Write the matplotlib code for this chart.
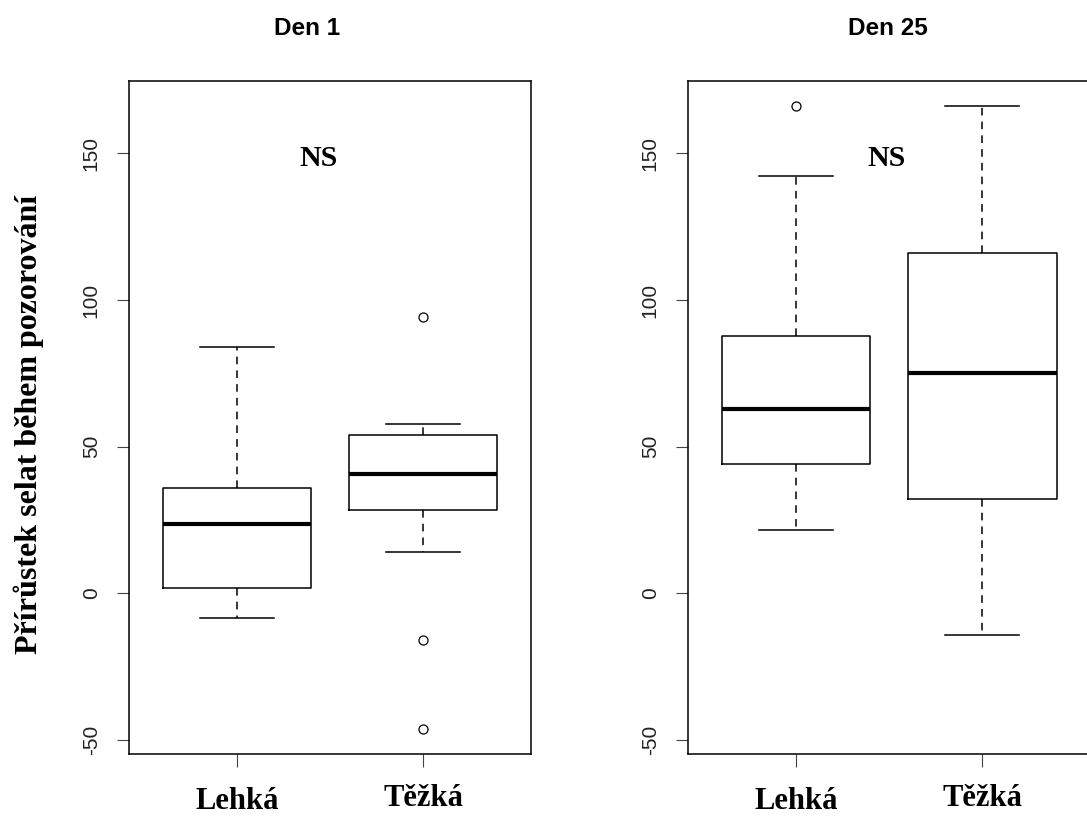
import matplotlib
matplotlib.use("Agg")
import matplotlib.pyplot as plt

# ---------------- data ----------------
categories = ["Lehká", "Těžká"]
panel_titles = ["Den 1", "Den 25"]
y_label = "Přírůstek selat během pozorování"
annotation = "NS"

# Den 1
den1_whislo = [-8.3, 14.0]
den1_q1 = [1.9, 28.3]
den1_med = [23.7, 40.8]
den1_q3 = [35.9, 53.9]
den1_whishi = [84.0, 57.7]
den1_fliers = [[], [94.2, -16.0, -46.3]]

# Den 25
den25_whislo = [21.7, -14.1]
den25_q1 = [44.2, 32.1]
den25_med = [63.0, 75.1]
den25_q3 = [87.7, 116.0]
den25_whishi = [142.2, 166.1]
den25_fliers = [[166.2], []]

y_ticks = [-50, 0, 50, 100, 150]

# ---------------- figure ----------------
W, H = 1087, 816
fig = plt.figure(figsize=(W / 100, H / 100), dpi=100)

ax_bottom = (H - 754) / H
ax_height = (754 - 81) / H
ax_width = 402 / W
axes = [fig.add_axes([129 / W, ax_bottom, ax_width, ax_height]),
        fig.add_axes([688 / W, ax_bottom, ax_width, ax_height])]

panels = [
    (den1_whislo, den1_q1, den1_med, den1_q3, den1_whishi, den1_fliers),
    (den25_whislo, den25_q1, den25_med, den25_q3, den25_whishi, den25_fliers),
]

all_vals = []
for p in panels:
    for lo, hi, fl in zip(p[0], p[4], p[5]):
        all_vals += [lo, hi] + list(fl)
ymin, ymax = min(all_vals), max(all_vals)
pad = 0.04 * (ymax - ymin)

title_x = [0.443, 0.496]
ns_x = [1.438, 1.484]
ns_y = 148.3
label_y = [-0.0815, -0.0772]

serif = "Liberation Serif"
sans = "Liberation Sans"

for i, (ax, p) in enumerate(zip(axes, panels)):
    whislo, q1, med, q3, whishi, fliers = p
    stats = []
    for j, name in enumerate(categories):
        stats.append(dict(label=name, whislo=whislo[j], q1=q1[j], med=med[j],
                          q3=q3[j], whishi=whishi[j], fliers=fliers[j]))
    ax.bxp(stats, positions=[1, 2], widths=0.8, showfliers=True,
           boxprops=dict(color="black", linewidth=1.1),
           medianprops=dict(color="black", linewidth=3.0, solid_capstyle="butt"),
           whiskerprops=dict(color="black", linewidth=1.1, linestyle=(0, (5, 4))),
           capprops=dict(color="black", linewidth=1.1),
           capwidths=0.4,
           flierprops=dict(marker="o", markersize=6.5, markerfacecolor="none",
                           markeredgecolor="black", markeredgewidth=0.9,
                           linestyle="none"))
    ax.set_xlim(0.42, 2.58)
    ax.set_ylim(ymin - pad, ymax + pad)

    for s in ax.spines.values():
        s.set_linewidth(1.1)
        s.set_color("black")

    ax.set_yticks(y_ticks)
    ax.set_yticklabels([str(t) for t in y_ticks])
    ax.tick_params(axis="y", length=8.6, width=0.8, color="#444444",
                   pad=18.5, labelsize=15, labelcolor="#222222")
    for lab in ax.get_yticklabels():
        lab.set_rotation(90)
        lab.set_ha("center")
        lab.set_va("center")
        lab.set_fontfamily(sans)

    ax.set_xticks([1, 2])
    ax.set_xticklabels(["", ""])
    ax.tick_params(axis="x", length=9.3, width=0.8, color="#444444")
    for j, name in enumerate(categories):
        ax.text(j + 1, label_y[j], name, transform=ax.get_xaxis_transform(),
                ha="center", va="baseline", fontsize=22, fontweight="bold",
                fontfamily=serif, color="black")

    ax.text(title_x[i], 1.068, panel_titles[i], transform=ax.transAxes,
            ha="center", va="baseline", fontsize=17.5, fontweight="bold",
            fontfamily=sans, color="black")
    ax.text(ns_x[i], ns_y, annotation, ha="center", va="center",
            fontsize=21.5, fontweight="bold", fontfamily=serif, color="black")

fig.text(37 / W, (H - 424) / H, y_label, rotation=90, rotation_mode="anchor",
         ha="center", va="baseline", fontsize=23, fontweight="bold",
         fontfamily=serif, color="black")

fig.savefig("out.png", dpi=100, facecolor="white")
